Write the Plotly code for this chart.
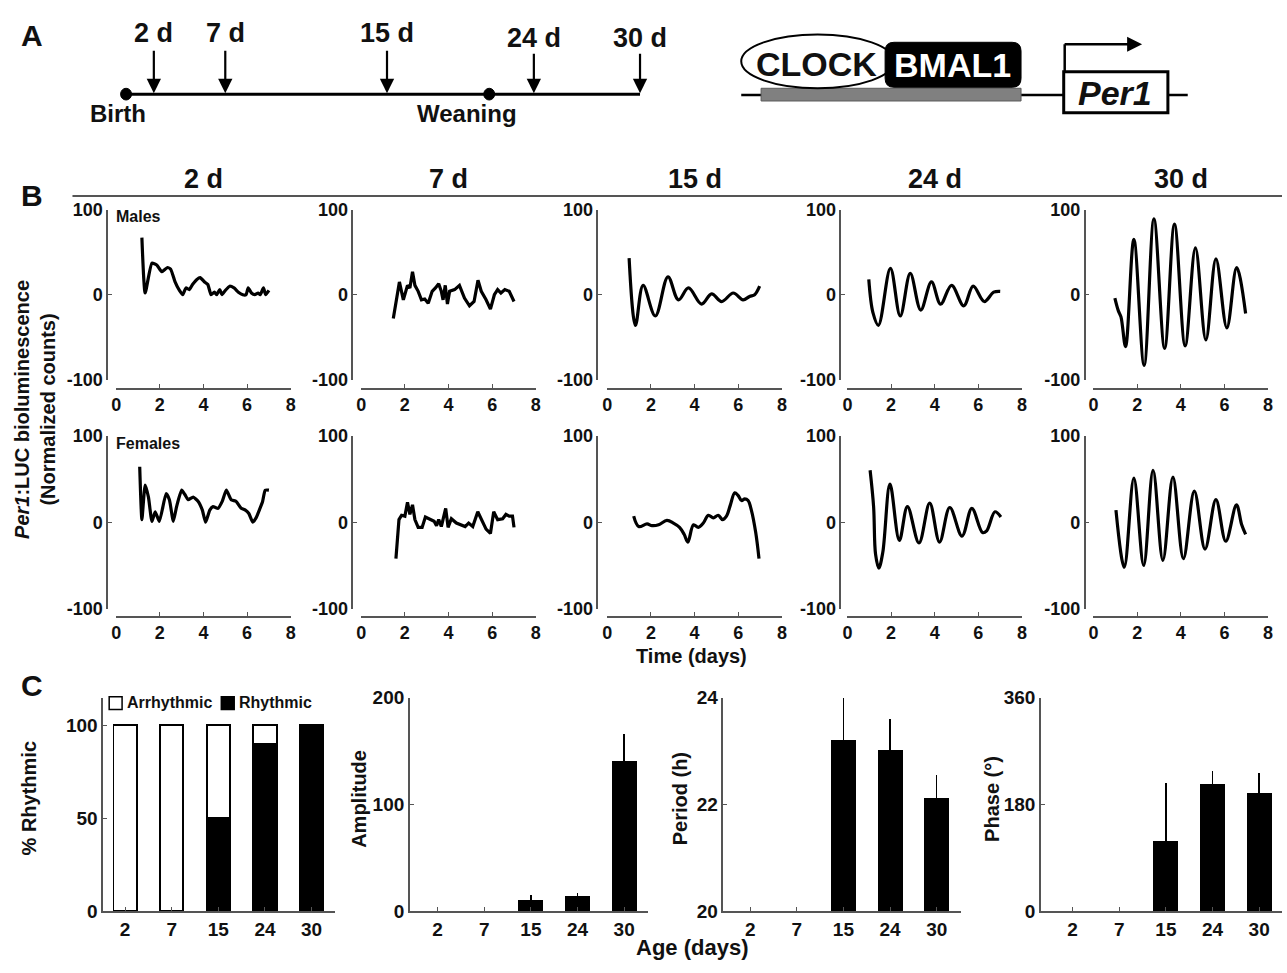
import plotly.graph_objects as go

W, H = 1287, 973
def fx(p): return p / W
def fy(p): return 1 - p / H

FAM = "Liberation Sans, Arial, sans-serif"
AXC = "#555555"
INK = "#111111"

# ---------------- data ----------------
col_titles = ["2 d", "7 d", "15 d", "24 d", "30 d"]
ages = ["2", "7", "15", "24", "30"]

males_2d_t = [1.18,1.33,1.64,1.86,2.09,2.35,2.5,2.7,2.9,3.05,3.2,3.35,3.5,3.7,3.85,4.05,4.2,4.35,4.5,4.6,4.75,4.85,5.0,5.2,5.4,5.6,5.8,5.95,6.05,6.2,6.35,6.5,6.6,6.75,6.85,7.0]
males_2d_y = [67,2,37,35,27,32,30,15,5,0,8,6,12,18,20,15,12,0,3,0,6,0,5,10,8,3,0,0,8,2,0,2,0,8,0,5]

males_7d_t = [1.47,1.75,1.93,2.12,2.23,2.35,2.46,2.61,2.76,2.91,3.07,3.25,3.4,3.55,3.67,3.75,3.85,3.95,4.05,4.28,4.5,4.73,4.96,5.17,5.35,5.5,5.72,5.92,6.1,6.25,6.4,6.58,6.78,7.0]
males_7d_y = [-28,15,-6,11,8,27,11,4,-6,-5,-10,4,8,13,4,-6,11,-11,4,6,11,-4,-13,-8,17,4,-6,-17,0,6,2,6,4,-8]

males_15d_t = [1.0,1.29,1.64,2.2,2.78,3.26,3.72,4.32,4.78,5.24,5.77,6.22,6.52,6.75,6.98]
males_15d_y = [43,-36,11,-25,21,-6,8,-11,1,-8,2,-6,-2,0,10]

males_24d_t = [0.98,1.17,1.42,1.97,2.42,2.88,3.36,3.85,4.27,4.77,5.33,5.76,6.27,6.7,7.0]
males_24d_y = [18,-21,-36,31,-25,25,-18,15,-11,11,-13,10,-8,3,4]

males_30d_t = [0.98,1.14,1.26,1.47,1.85,2.32,2.77,3.26,3.71,4.2,4.67,5.15,5.61,6.11,6.56,6.97]
males_30d_y = [-4,-19,-26,-61,65,-83,89,-63,83,-60,55,-53,42,-39,32,-22]

females_2d_t = [1.08,1.18,1.33,1.48,1.64,1.79,1.98,2.29,2.44,2.62,2.77,3.0,3.15,3.3,3.53,3.76,3.95,4.1,4.29,4.44,4.67,4.86,5.05,5.27,5.5,5.73,5.92,6.08,6.26,6.41,6.59,6.71,6.83,7.0]
females_2d_y = [64,3,43,29,1,12,1,33,26,1,18,37,32,26,29,24,14,0,14,18,16,24,37,26,24,16,14,10,0,5,16,24,37,37]

females_7d_t = [1.59,1.73,1.85,2.0,2.12,2.23,2.35,2.46,2.61,2.79,2.94,3.14,3.34,3.45,3.55,3.67,3.87,3.98,4.13,4.36,4.58,4.76,4.92,5.11,5.34,5.57,5.72,5.92,6.07,6.25,6.48,6.63,6.78,6.93,7.0]
females_7d_y = [-42,3,8,7,23,9,20,3,-6,-6,6,3,1,-4,3,-5,16,-6,4,-1,-3,-5,-1,-5,12,1,-8,-13,12,3,4,9,7,7,-6]

females_15d_t = [1.21,1.44,1.82,2.05,2.35,2.73,3.03,3.31,3.52,3.69,3.95,4.17,4.4,4.63,4.86,5.08,5.28,5.46,5.64,5.84,5.99,6.15,6.3,6.45,6.6,6.8,6.95]
females_15d_y = [7,-5,-2,-4,-3,2,-1,-6,-14,-23,-3,-6,-1,8,5,8,3,7,20,34,31,25,27,25,14,-12,-42]

females_24d_t = [1.04,1.2,1.29,1.44,1.62,1.95,2.38,2.75,3.28,3.77,4.22,4.69,5.25,5.7,6.19,6.38,6.76,7.03]
females_24d_y = [60,18,-37,-53,-35,44,-21,18,-24,22,-23,17,-16,16,-12,-10,12,6]

females_30d_t = [1.03,1.41,1.85,2.3,2.73,3.18,3.64,4.12,4.62,5.11,5.61,6.06,6.55,6.79,6.97]
females_30d_y = [14,-52,51,-50,60,-44,52,-42,36,-31,26,-22,20,-3,-14]

pct_rhythmic = [0, 0, 50, 90, 100]
pct_arrhythmic = [100, 100, 50, 10, 0]
amplitude = [None, None, 10, 13, 140]
amplitude_err = [0, 0, 5, 4, 26]
period = [None, None, 23.2, 23.0, 22.1]
period_err = [0, 0, 0.8, 0.6, 0.45]
phase = [None, None, 117, 213, 198]
phase_err = [0, 0, 99, 24, 35]

# ---------------- layout geometry (px) ----------------
col_x0 = [112, 359, 607, 849, 1097]
col_yaxis = [103, 350, 597, 842, 1088]
COLW = 176
rows = [dict(top=204, bot=378, xline=387), dict(top=435, bot=612, xline=620)]
smooth_style = {"2 d": ("spline", 0.5), "7 d": ("linear", 0), "15 d": ("spline", 1.0),
                "24 d": ("spline", 1.0), "30 d": ("spline", 1.0)}

series = [
    [(males_2d_t, males_2d_y), (males_7d_t, males_7d_y), (males_15d_t, males_15d_y),
     (males_24d_t, males_24d_y), (males_30d_t, males_30d_y)],
    [(females_2d_t, females_2d_y), (females_7d_t, females_7d_y), (females_15d_t, females_15d_y),
     (females_24d_t, females_24d_y), (females_30d_t, females_30d_y)],
]

fig = go.Figure()
layout = {}
tickfont_b = dict(family=FAM, size=18, color=INK, weight="bold")
tickfont_c = dict(family=FAM, size=19, color=INK, weight="bold")

idx = 0
for r, row in enumerate(rows):
    for c in range(5):
        idx += 1
        xa = "x" if idx == 1 else f"x{idx}"
        ya = "y" if idx == 1 else f"y{idx}"
        t, y = series[r][c]
        shape, sm = smooth_style[col_titles[c]]
        line = dict(color="black", width=3.2, shape=shape)
        if shape == "spline":
            line["smoothing"] = sm
        fig.add_trace(go.Scatter(x=t, y=y, mode="lines", line=line, xaxis=xa, yaxis=ya,
                                 showlegend=False, hoverinfo="skip"))
        layout[f"xaxis{idx}"] = dict(
            domain=[fx(col_x0[c]), fx(col_x0[c] + COLW)], range=[0, 8],
            tickvals=[0, 2, 4, 6, 8], ticks="inside", ticklen=4, tickcolor=AXC,
            showline=True, linecolor=AXC, linewidth=1.5, showgrid=False, zeroline=False,
            anchor="free", position=fy(row["xline"]), tickfont=tickfont_b, fixedrange=True)
        layout[f"yaxis{idx}"] = dict(
            domain=[fy(row["bot"]), fy(row["top"])], range=[-100, 100],
            tickvals=[-100, 0, 100], ticktext=["-100", "0", "100"], ticks="inside", ticklen=4,
            tickcolor=AXC, showline=True, linecolor=AXC, linewidth=1.5, showgrid=False, zeroline=False,
            anchor="free", position=fx(col_yaxis[c]), tickfont=tickfont_b, fixedrange=True)

# ---------------- panel C ----------------
c_axis_x = [99, 408, 724, 1044]
c_cat0 = [121, 436, 751, 1076]
C_STEP = 47
c_end = [333, 648, 963, 1287]
c_yr = [[0, 114.7], [0, 200], [20, 24], [0, 360]]
c_tick = [[0, 50, 100], [0, 100, 200], [20, 22, 24], [0, 180, 360]]
c_titles = ["% Rhythmic", "Amplitude", "Period (h)", "Phase (°)"]
c_title_x = [24, 356, 680, 994]
C_TOP, C_BOT = 703, 921
bar_line = dict(color="black", width=1.8)
BARW = 0.5
def errstyle(arr):
    return dict(type="data", array=arr, arrayminus=[0] * len(arr), symmetric=False,
                color="black", thickness=1.5, width=0)

for k in range(4):
    idx += 1
    xa, ya = f"x{idx}", f"y{idx}"
    if k == 0:
        fig.add_trace(go.Bar(x=ages, y=pct_rhythmic, name="Rhythmic", marker=dict(color="black", line=bar_line),
                             width=BARW, xaxis=xa, yaxis=ya, hoverinfo="skip", showlegend=False))
        fig.add_trace(go.Bar(x=ages, y=pct_arrhythmic, name="Arrhythmic", marker=dict(color="white", line=bar_line),
                             width=BARW, xaxis=xa, yaxis=ya, hoverinfo="skip", showlegend=False))
    else:
        vals, errs = [(amplitude, amplitude_err), (period, period_err), (phase, phase_err)][k - 1]
        if k == 2:
            vals = [None if v is None else v - 20 for v in vals]
        fig.add_trace(go.Bar(x=ages, y=vals, marker=dict(color="black", line=bar_line), width=BARW,
                             error_y=errstyle(errs), base=(20 if k == 2 else None),
                             xaxis=xa, yaxis=ya, showlegend=False, hoverinfo="skip"))
    r0 = -(c_cat0[k] - c_axis_x[k]) / C_STEP
    r1 = 4 + (c_end[k] - (c_cat0[k] + 4 * C_STEP)) / C_STEP
    layout[f"xaxis{idx}"] = dict(
        domain=[fx(c_axis_x[k]), fx(c_end[k])], type="category", range=[r0, r1],
        ticks="inside", ticklen=4, tickcolor=AXC, showline=True, linecolor=AXC, linewidth=1.5,
        showgrid=False, zeroline=False, anchor=ya, tickfont=tickfont_c, fixedrange=True)
    layout[f"yaxis{idx}"] = dict(
        domain=[fy(C_BOT), fy(C_TOP)], range=c_yr[k], tickvals=c_tick[k],
        ticks="inside", ticklen=4, tickcolor=AXC, showline=True, linecolor=AXC, linewidth=1.5,
        showgrid=False, zeroline=False, anchor=xa, tickfont=tickfont_c, fixedrange=True)

annotations = []
shapes = []
def txt(x, y, s, size, bold=True, color=INK, angle=0, xanchor="center", italic=False):
    annotations.append(dict(x=fx(x), y=fy(y), xref="paper", yref="paper", text=s, showarrow=False,
                            xanchor=xanchor, yanchor="middle", textangle=angle,
                            font=dict(family=FAM, size=size, color=color,
                                      weight="bold" if bold else "normal",
                                      style="italic" if italic else "normal")))

# panel letters
txt(27, 26, "A", 30)
txt(27, 190, "B", 30)
txt(27, 690, "C", 30)

# column titles & rule
col_centers = [x + COLW / 2 for x in col_x0]
for c in range(5):
    txt(col_centers[c], 173, col_titles[c], 27)
shapes.append(dict(type="line", xref="paper", yref="paper", x0=fx(68), x1=fx(1287), y0=fy(190), y1=fy(190),
                   line=dict(color="#555555", width=2)))
txt(110, 211, "Males", 16, xanchor="left")
txt(110, 443, "Females", 16, xanchor="left")
txt(30, 408, "<i>Per1</i>:LUC bioluminescence<br>(Normalized counts)", 20, angle=-90)
txt(692, 660, "Time (days)", 20)
txt(692, 958, "Age (days)", 22)
for k in range(4):
    txt(c_title_x[k], 806, c_titles[k], 20, angle=-90)

# legend of panel C (key boxes + labels)
shapes.append(dict(type="rect", xref="paper", yref="paper", x0=fx(105), x1=fx(118), y0=fy(715), y1=fy(702),
                   fillcolor="white", line=dict(color="black", width=1.5)))
txt(121, 708, "Arrhythmic", 16, xanchor="left")
shapes.append(dict(type="rect", xref="paper", yref="paper", x0=fx(218), x1=fx(231), y0=fy(715), y1=fy(702),
                   fillcolor="black", line=dict(color="black", width=1.5)))
txt(234, 708, "Rhythmic", 16, xanchor="left")

# ---------------- panel A: timeline ----------------
TL_Y = 86
shapes.append(dict(type="line", xref="paper", yref="paper", x0=fx(122), x1=fx(640), y0=fy(TL_Y), y1=fy(TL_Y),
                   line=dict(color="black", width=3)))
for cx in (122, 488):
    shapes.append(dict(type="circle", xref="paper", yref="paper", x0=fx(cx - 5.5), x1=fx(cx + 5.5),
                       y0=fy(TL_Y - 6), y1=fy(TL_Y + 6), fillcolor="black", line=dict(color="black", width=1)))
arrow_x = [150, 222, 385, 533, 640]
arrow_top = [41, 41, 41, 44, 44]
label_y = [23, 23, 23, 29, 29]
for ax_, at, ly, lab in zip(arrow_x, arrow_top, label_y, col_titles):
    annotations.append(dict(x=fx(ax_), y=fy(TL_Y - 1), xref="paper", yref="paper", ax=0, ay=-(TL_Y - 1 - at),
                            showarrow=True, arrowhead=2, arrowsize=1.3,
                            arrowwidth=2.2, arrowcolor="black", text=""))
    txt(ax_, ly, lab, 27)
txt(114, 106, "Birth", 24)
txt(466, 106, "Weaning", 24)

# ---------------- panel A: gene diagram ----------------
G_Y = 87
shapes.append(dict(type="line", xref="paper", yref="paper", x0=fx(742), x1=fx(1192), y0=fy(G_Y), y1=fy(G_Y),
                   line=dict(color="black", width=2.5)))
shapes.append(dict(type="rect", xref="paper", yref="paper", x0=fx(762), x1=fx(1024), y0=fy(93), y1=fy(80),
                   fillcolor="#808080", line=dict(color="#5a5a5a", width=1)))
shapes.append(dict(type="circle", xref="paper", yref="paper", x0=fx(742), x1=fx(896), y0=fy(80), y1=fy(25),
                   fillcolor="white", line=dict(color="black", width=2)))
bx0, bx1, by0, by1, rr = 887, 1024, 33, 79, 9
def P(x, y): return f"{fx(x):.5f},{fy(y):.5f}"
path = (f"M {P(bx0 + rr, by0)} L {P(bx1 - rr, by0)} Q {P(bx1, by0)} {P(bx1, by0 + rr)} "
        f"L {P(bx1, by1 - rr)} Q {P(bx1, by1)} {P(bx1 - rr, by1)} L {P(bx0 + rr, by1)} "
        f"Q {P(bx0, by1)} {P(bx0, by1 - rr)} L {P(bx0, by0 + rr)} Q {P(bx0, by0)} {P(bx0 + rr, by0)} Z")
shapes.append(dict(type="path", xref="paper", yref="paper", path=path, fillcolor="black",
                   line=dict(color="black", width=1)))
txt(818, 55, "CLOCK", 34)
txt(955, 56, "BMAL1", 34, color="white")
shapes.append(dict(type="rect", xref="paper", yref="paper", x0=fx(1067), x1=fx(1172), y0=fy(105), y1=fy(63),
                   fillcolor="white", line=dict(color="black", width=3)))
txt(1119, 85, "Per1", 34, italic=True)
shapes.append(dict(type="line", xref="paper", yref="paper", x0=fx(1068), x1=fx(1068), y0=fy(63), y1=fy(35),
                   line=dict(color="black", width=2.5)))
annotations.append(dict(x=fx(1146), y=fy(35), xref="paper", yref="paper", ax=-79, ay=0,
                        showarrow=True, arrowhead=2, arrowsize=1.2,
                        arrowwidth=2.5, arrowcolor="black", text=""))

fig.update_layout(
    width=W, height=H, margin=dict(l=0, r=0, t=0, b=0),
    paper_bgcolor="white", plot_bgcolor="rgba(0,0,0,0)",
    barmode="stack", showlegend=False,
    shapes=shapes, annotations=annotations,
    font=dict(family=FAM, color=INK),
    **layout,
)
fig.write_html("out.html", config={"displayModeBar": False},
               post_script="document.body.style.margin='0';document.body.style.overflow='hidden';")
